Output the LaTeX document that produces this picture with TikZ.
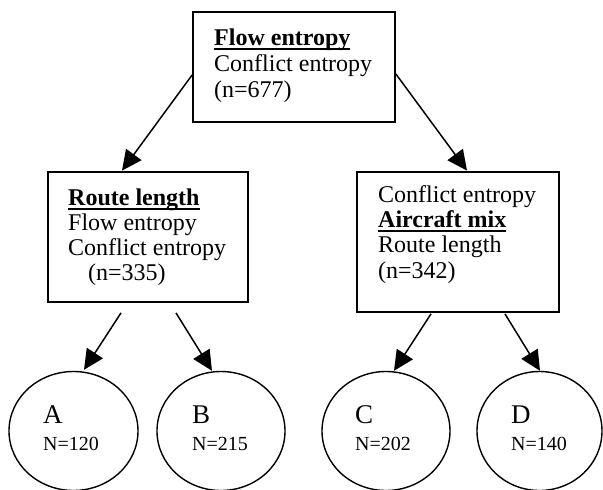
\documentclass[tikz,border=0pt]{standalone}
\usepackage{fontspec}
\setmainfont{Liberation Serif}
\usetikzlibrary{arrows.meta,shapes.geometric}
\newsavebox\ulbox
\newcommand\ulbold[1]{\sbox\ulbox{\bfseries #1}\rlap{\rule[-4.5pt]{\wd\ulbox}{1.6pt}}\usebox\ulbox}
\newcommand\firststrut{\rule{0pt}{17pt}}
\begin{document}
\begin{tikzpicture}[x=1pt,y=-1pt,
  boxnode/.style={draw, rectangle, line width=1.8pt, inner sep=0pt},
  leaf/.style={draw, ellipse, line width=1.4pt, inner sep=0pt, minimum height=119pt},
  txt/.style={anchor=north west, inner sep=0pt, align=left},
  leafletter/.style={anchor=base west, inner sep=0pt, font=\fontsize{27}{30}\selectfont},
  leafcount/.style={anchor=base west, inner sep=0pt, font=\fontsize{20}{22}\selectfont},
  arr/.style={line width=1.5pt, -{Triangle[length=20pt,width=19pt]}}]
\useasboundingbox (0,0) rectangle (603,490);
\clip (0,0) rectangle (603,490);
\fill[white] (0,0) rectangle (603,490);

% boxes
\node[boxnode, minimum width=202pt, minimum height=110pt] (top) at (294,67) {};
\node[boxnode, minimum width=200pt, minimum height=130pt] (lbox) at (148,237) {};
\node[boxnode, minimum width=202pt, minimum height=140pt] (rbox) at (458,242) {};

% box texts
\node[txt, font=\fontsize{24}{26}\selectfont] (toptext) at (214,28)
  {\firststrut\ulbold{Flow entropy}\\Conflict entropy\\(n=677)};
\node[txt, font=\fontsize{24}{25}\selectfont] (ltext) at (68,188)
  {\firststrut\ulbold{Route length}\\Flow entropy\\Conflict entropy\\\hspace*{20pt}(n=335)};
\node[txt, font=\fontsize{24}{25.3}\selectfont] (rtext) at (378,185)
  {\firststrut Conflict entropy\\\ulbold{Aircraft mix}\\Route length\\(n=342)};

% leaves
\node[leaf, minimum width=129pt] (A) at (73.5,431) {};
\node[leaf, minimum width=128pt] (B) at (221,431) {};
\node[leaf, minimum width=128pt] (C) at (386,431) {};
\node[leaf, minimum width=125pt] (D) at (539.5,431) {};

\node[leafletter] (Al) at (43,423) {A};
\node[leafcount] (An) at (43,450) {N=120};
\node[leafletter] (Bl) at (192,423) {B};
\node[leafcount] (Bn) at (192,450) {N=215};
\node[leafletter] (Cl) at (355,423) {C};
\node[leafcount] (Cn) at (355,450) {N=202};
\node[leafletter] (Dl) at (511,423) {D};
\node[leafcount] (Dn) at (511,450) {N=140};

% arrows
\draw[arr] ([yshift=-8pt]top.west) -- ([xshift=-26pt,yshift=0.5pt]lbox.north);
\draw[arr] ([yshift=-7pt]top.east) -- ([xshift=9pt,yshift=0.5pt]rbox.north);
\draw[arr] ([xshift=-27pt,yshift=-10pt]lbox.south) -- ([xshift=10.5pt,yshift=1pt]A.north);
\draw[arr] ([xshift=28pt,yshift=-10pt]lbox.south) -- ([xshift=-9pt,yshift=0pt]B.north);
\draw[arr] ([xshift=-27pt,yshift=-1pt]rbox.south) -- ([xshift=8pt,yshift=0pt]C.north);
\draw[arr] ([xshift=47pt,yshift=-1pt]rbox.south) -- ([xshift=0.5pt,yshift=0pt]D.north);
\end{tikzpicture}
\end{document}
